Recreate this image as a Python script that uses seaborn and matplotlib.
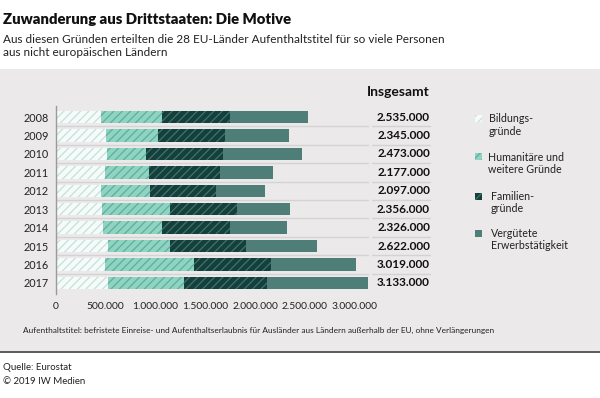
import numpy as np
import pandas as pd
import matplotlib
matplotlib.use("Agg")
import matplotlib.pyplot as plt
import seaborn as sns
from matplotlib.patches import Rectangle
from matplotlib.lines import Line2D
import matplotlib.transforms as mtransforms

# ---- data (thousands of persons) ----
years = ["2008", "2009", "2010", "2011", "2012", "2013", "2014", "2015", "2016", "2017"]
bildung = [452, 502, 509, 489, 452, 459, 472, 522, 495, 525]
humanitaer = [609, 525, 395, 442, 489, 689, 595, 626, 887, 763]
familie = [686, 670, 776, 719, 669, 672, 680, 763, 777, 830]
erwerb = [788, 648, 793, 527, 487, 536, 579, 711, 860, 1015]
totals = [2535, 2345, 2473, 2177, 2097, 2356, 2326, 2622, 3019, 3133]
series_labels = [["Bildungs-", "gründe"], ["Humanitäre und", "weitere Gründe"],
                 ["Familien-", "gründe"], ["Vergütete", "Erwerbstätigkeit"]]
xticks = [0, 500000, 1000000, 1500000, 2000000, 2500000, 3000000]
xtick_labels = ["0", "500.000", "1.000.000", "1.500.000", "2.000.000", "2.500.000", "3.000.000"]

title = "Zuwanderung aus Drittstaaten: Die Motive"
sub1 = "Aus diesen Gründen erteilten die 28 EU-Länder Aufenthaltstitel für so viele Personen"
sub2 = "aus nicht europäischen Ländern"
note = "Aufenthaltstitel: befristete Einreise- und Aufenthaltserlaubnis für Ausländer aus Ländern außerhalb der EU, ohne Verlängerungen"
src1 = "Quelle: Eurostat"
src2 = "© 2019 IW Medien"

# ---- style ----
sns.set_style("white")
FONT = ["Lato", "DejaVu Sans"]
plt.rcParams["font.family"] = FONT
plt.rcParams["hatch.linewidth"] = 0.9

W, H = 600, 398
fig = plt.figure(figsize=(6.0, 3.98), dpi=100, facecolor="white")
renderer = fig.canvas.get_renderer()

def fx(x):
    return x / W

def fy(y):
    return 1 - y / H

# background panel
fig.add_artist(Rectangle((0, fy(351)), 1, (351 - 69) / H, transform=fig.transFigure,
                         facecolor="#ebe9e9", edgecolor="none", zorder=-10))
fig.add_artist(Line2D([0, 1], [fy(351.5), fy(351.5)], transform=fig.transFigure,
                      color="#5a5a5a", lw=1.4, zorder=-5))

def measure_size(s, width, size=8, **kw):
    t = fig.text(0, 0, s, fontsize=size, **kw)
    bb = t.get_window_extent(renderer=renderer)
    t.remove()
    return size * width / bb.width

def fit(x, y, s, width, size=8, ha="left", **kw):
    fsz = measure_size(s, width, size, **kw)
    return fig.text(fx(x), fy(y), s, fontsize=fsz, ha=ha, va="center", **kw)

# ---- axes ----
xmax = 3.2e6
px_per_unit = 99.5e-6
ax_left, ax_w = 56, xmax * px_per_unit
row = 18.44
ytop = 117 - row * 0.6
ybot = 283 + row * 0.6
ax = fig.add_axes([fx(ax_left), fy(ybot), ax_w / W, (ybot - ytop) / H])
ax.set_facecolor("none")

cum1 = np.array(bildung) * 1000
cum2 = cum1 + np.array(humanitaer) * 1000
cum3 = cum2 + np.array(familie) * 1000
cum4 = cum3 + np.array(erwerb) * 1000
df = pd.DataFrame({"year": years, "c1": cum1, "c2": cum2, "c3": cum3, "c4": cum4})

C_BIL, H_BIL = "#f6faf9", "#bfe2db"
C_HUM, H_HUM = "#8fd3c1", "#5fad9e"
C_FAM, H_FAM = "#163f3b", "#3a766e"
C_ERW = "#4f7e79"

layers = [
    ("c4", C_ERW, None, None),
    ("c3", C_FAM, H_FAM, "////"),
    ("c2", C_HUM, H_HUM, "////"),
    ("c1", C_BIL, H_BIL, "////"),
]
for col, fc, hc, hatch in layers:
    sns.barplot(data=df, x=col, y="year", order=years, orient="h", color=fc,
                saturation=1, width=0.68, ax=ax, linewidth=0, edgecolor=fc)
    cont = ax.containers[-1]
    for p in cont:
        p.set_facecolor(fc)
        if hatch:
            p.set_hatch(hatch)
            p.set_edgecolor(hc)
            p.set_linewidth(0)

ax.set_xlim(0, xmax)
ax.set_ylim(9.6, -0.6)
ax.set_xlabel("")
ax.set_ylabel("")
for s in ["top", "right", "bottom"]:
    ax.spines[s].set_visible(False)
ax.spines["left"].set_color("#9a9a9a")
ax.spines["left"].set_linewidth(1)
ax.set_xticks(xticks)
ax.set_xticklabels(xtick_labels)
ax.tick_params(axis="both", length=0, colors="#222222")
ax.tick_params(axis="x", pad=5.5, labelsize=7.4)
ax.tick_params(axis="y", pad=5, labelsize=7.8)

# row separators
blend = mtransforms.blended_transform_factory(fig.transFigure, ax.transData)
for i in range(len(years) - 1):
    yy = i + 0.5
    fig.add_artist(Line2D([fx(57), fx(368)], [yy, yy], transform=blend, color="#d3d3d3", lw=1, zorder=-1))
    fig.add_artist(Line2D([fx(372), fx(430)], [yy, yy], transform=blend, color="#d3d3d3", lw=1, zorder=-1))

# totals
def fmt(v):
    return f"{v * 1000:,}".replace(",", ".")

tot_size = measure_size(fmt(totals[0]), 54, fontweight="bold")
for i, v in enumerate(totals):
    ax.text(fx(430), i, fmt(v), transform=blend, fontsize=tot_size, ha="right", va="center",
            fontweight="bold", color="#111111")

fit(430, 92, "Insgesamt", 63, ha="right", fontweight="bold", color="#111111")

# titles
fit(3, 19, title, 290, fontweight="heavy", color="#111111")
ts = fit(3, 39.5, sub1, 442, color="#222222")
fig.text(fx(3), fy(53), sub2, fontsize=ts.get_fontsize(), ha="left", va="center", color="#222222")

# note and footer
fit(23, 330, note, 467, color="#222222")
fs = fit(3, 368, src1, 69, color="#222222")
fig.text(fx(3), fy(381), src2, fontsize=fs.get_fontsize(), ha="left", va="center", color="#222222")

# legend
leg = [
    (C_BIL, H_BIL, "////", 118.5, 488.5, (119, 131.7)),
    (C_HUM, H_HUM, "////", 156, 488.5, (157.3, 170)),
    (C_FAM, H_FAM, "////", 196.5, 490.5, (196.7, 208.8)),
    (C_ERW, C_ERW, None, 233.5, 490.5, (233.3, 245.7)),
]
lsize = measure_size("Humanitäre und", 76)
for (fc, hc, hatch, yc, tx, tys), lab in zip(leg, series_labels):
    r = Rectangle((fx(475), fy(yc + 3.5)), 7 / W, 7 / H, transform=fig.transFigure,
                  facecolor=fc, edgecolor=hc, linewidth=0, hatch=hatch)
    fig.add_artist(r)
    for line, ty in zip(lab, tys):
        fig.text(fx(tx), fy(ty), line, fontsize=lsize, ha="left", va="center", color="#222222")

fig.savefig("out.png", dpi=100, facecolor="white")
